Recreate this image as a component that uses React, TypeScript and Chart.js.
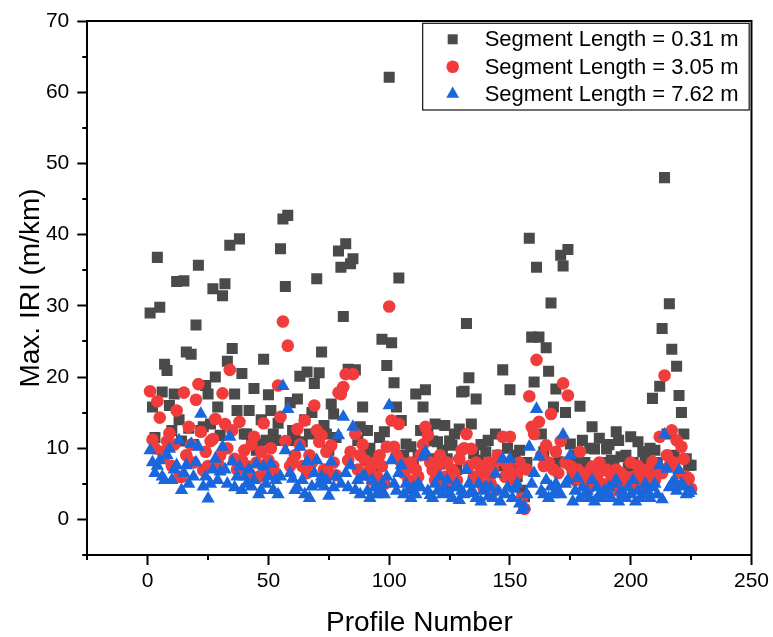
import React, { useEffect, useRef } from 'react';
import { Chart, registerables } from 'chart.js';

Chart.register(...registerables);

// Profile numbers (x categories)
const profiles: number[] = Array.from({ length: 225 }, (_, i) => i + 1);

// Max. IRI (m/km) – Segment Length = 0.31 m
const seg031: number[] = [
  29.0, 15.8, 11.5, 36.8, 29.8, 17.9, 21.8, 20.9, 16.0, 12.5,
  17.6, 33.4, 14.0, 11.0, 33.5, 23.5, 12.8, 23.2, 10.5, 27.3,
  35.7, 12.5, 13.0, 18.8, 17.6, 13.4, 32.4, 20.0, 15.8, 11.8,
  31.4, 33.1, 22.2, 38.5, 24.0, 17.6, 15.3, 39.4, 20.5, 12.0,
  12.0, 15.3, 10.5, 18.4, 9.7, 10.6, 14.0, 22.5, 11.1, 17.5,
  15.3, 12.0, 11.1, 13.5, 38.0, 42.2, 32.7, 42.7, 16.4, 12.5,
  11.1, 16.9, 20.1, 10.9, 14.0, 20.7, 12.0, 15.0, 19.1, 33.8,
  20.6, 23.5, 13.2, 12.0, 9.7, 16.2, 14.8, 11.5, 37.7, 35.4,
  28.5, 38.7, 21.1, 35.9, 36.6, 21.0, 11.1, 13.0, 15.8, 9.7,
  12.5, 10.0, 8.5, 7.4, 8.8, 11.5, 25.3, 12.3, 21.6, 62.1,
  24.8, 19.2, 15.8, 33.9, 13.9, 9.0, 10.6, 8.0, 10.2, 7.5,
  17.6, 9.0, 12.5, 15.8, 18.2, 12.0, 8.5, 11.0, 13.4, 10.9,
  7.8, 9.7, 13.2, 8.5, 11.0, 10.4, 12.0, 7.0, 12.7, 17.9,
  18.0, 27.5, 19.9, 13.4, 9.2, 16.9, 8.3, 10.5, 7.0, 9.5,
  11.1, 6.5, 8.0, 12.0, 9.0, 7.5, 21.0, 7.9, 10.0, 18.2,
  7.4, 9.0, 6.0, 9.7, 4.1, 3.2, 8.0, 39.5, 25.6, 19.3,
  35.4, 25.6, 12.0, 9.5, 24.1, 20.8, 30.4, 15.8, 18.3, 8.1,
  37.1, 35.6, 15.0, 37.9, 10.6, 7.0, 9.0, 8.3, 15.9, 11.1,
  8.0, 7.5, 10.0, 13.0, 9.9, 6.5, 11.4, 8.0, 7.0, 9.9,
  10.5, 8.3, 7.5, 12.3, 11.1, 8.8, 6.5, 9.0, 7.2, 11.6,
  8.0, 6.8, 10.9, 7.5, 9.5, 8.5, 6.5, 10.0, 17.0, 9.7,
  8.0, 18.7, 26.8, 48.0, 12.0, 30.3, 23.9, 9.0, 21.5, 17.4,
  15.0, 12.0, 8.5, 7.6, 7.6,
];

// Max. IRI (m/km) – Segment Length = 3.05 m
const seg305: number[] = [
  18.0, 11.2, 10.0, 16.6, 14.3, 9.5, 8.8, 11.0, 12.1, 7.5,
  10.5, 15.3, 6.0, 6.0, 17.8, 9.0, 13.0, 10.5, 8.0, 16.8,
  19.0, 12.3, 6.9, 9.5, 7.5, 11.0, 11.3, 14.1, 8.0, 9.0,
  17.7, 13.4, 10.0, 21.0, 12.5, 8.5, 7.0, 13.7, 8.3, 9.7,
  7.5, 6.5, 10.5, 11.6, 8.0, 6.0, 9.5, 13.5, 7.0, 8.3,
  10.0, 7.5, 6.5, 18.8, 14.4, 27.8, 11.0, 24.4, 7.5, 8.1,
  9.0, 12.7, 10.5, 7.5, 13.9, 6.5, 9.0, 8.0, 16.0, 12.5,
  10.9, 11.8, 7.0, 9.5, 6.5, 10.4, 8.0, 6.2, 17.8, 17.6,
  18.6, 20.4, 8.3, 9.5, 20.4, 12.0, 7.0, 9.0, 10.5, 8.3,
  6.5, 7.0, 5.5, 8.0, 6.0, 9.0, 7.5, 5.0, 10.2, 29.9,
  13.9, 10.2, 9.0, 13.4, 8.0, 6.5, 7.0, 5.5, 8.0, 4.5,
  7.0, 6.0, 9.0, 10.5, 13.0, 11.8, 8.0, 6.9, 5.5, 7.5,
  9.0, 5.0, 6.0, 8.0, 4.5, 7.0, 6.5, 5.5, 8.5, 9.7,
  10.0, 12.0, 7.5, 9.9, 6.0, 8.0, 5.5, 7.0, 4.5, 6.5,
  8.0, 5.0, 7.0, 4.1, 9.0, 8.3, 11.6, 6.0, 7.5, 11.6,
  6.5, 5.0, 6.4, 8.0, 3.0, 1.5, 7.0, 17.3, 13.0, 12.0,
  22.4, 13.7, 9.0, 7.5, 10.4, 8.0, 14.8, 7.0, 9.5, 6.5,
  11.0, 19.1, 8.0, 17.4, 7.5, 6.6, 5.5, 7.0, 9.5, 6.0,
  5.0, 6.5, 4.5, 7.4, 5.5, 6.0, 8.0, 5.0, 6.9, 7.0,
  4.5, 6.0, 5.5, 7.0, 4.0, 6.5, 5.0, 6.0, 5.5, 8.0,
  6.0, 4.5, 7.5, 5.5, 6.4, 5.0, 7.0, 6.0, 8.1, 5.5,
  7.0, 11.6, 6.5, 20.2, 9.0, 7.5, 12.5, 8.0, 11.1, 6.5,
  10.2, 8.5, 6.0, 5.7, 4.3,
];

// Max. IRI (m/km) – Segment Length = 7.62 m
const seg762: number[] = [
  9.7, 8.0, 6.5, 7.5, 8.3, 6.0, 5.5, 9.0, 9.9, 5.5,
  7.0, 7.6, 11.1, 4.1, 6.5, 7.6, 5.0, 10.6, 6.0, 8.0,
  10.2, 14.8, 4.6, 6.0, 2.9, 5.0, 7.0, 8.5, 5.5, 6.7,
  10.2, 7.0, 5.0, 11.6, 8.1, 4.5, 6.0, 7.4, 4.1, 6.0,
  5.0, 7.0, 4.6, 5.5, 7.8, 3.5, 4.1, 7.4, 5.0, 6.0,
  7.8, 4.1, 5.5, 3.5, 6.0, 18.7, 9.7, 15.5, 6.5, 5.7,
  4.1, 4.5, 10.2, 5.5, 3.5, 8.1, 3.0, 4.6, 6.5, 8.3,
  5.0, 6.0, 4.6, 5.5, 3.3, 8.1, 4.5, 6.0, 11.8, 5.0,
  14.4, 6.5, 4.5, 7.6, 13.0, 4.1, 5.5, 3.5, 6.0, 6.0,
  4.0, 3.0, 5.5, 4.5, 3.5, 4.3, 5.0, 3.5, 6.0, 16.0,
  8.3, 5.0, 4.0, 6.5, 7.6, 3.5, 5.0, 4.1, 3.0, 4.5,
  3.5, 5.0, 4.5, 8.8, 9.5, 4.0, 3.4, 3.0, 5.0, 4.0,
  6.0, 3.5, 4.5, 5.5, 3.7, 3.0, 4.5, 5.0, 2.7, 4.0,
  3.5, 6.9, 5.0, 4.0, 3.7, 3.0, 5.0, 2.5, 4.0, 4.6,
  3.2, 4.5, 3.0, 6.4, 4.0, 2.5, 8.5, 3.5, 4.5, 8.5,
  3.0, 4.3, 5.0, 2.2, 1.3, 1.8, 3.5, 10.2, 5.0, 6.5,
  15.5, 8.8, 4.0, 3.5, 5.5, 3.0, 4.6, 3.5, 5.0, 4.0,
  3.5, 11.9, 5.0, 5.5, 9.0, 2.5, 4.0, 5.8, 3.0, 4.5,
  3.5, 4.0, 3.0, 5.5, 2.5, 4.5, 3.5, 3.0, 4.0, 3.5,
  4.5, 3.0, 5.0, 5.5, 2.5, 4.0, 3.5, 3.0, 4.5, 3.5,
  5.5, 2.5, 4.0, 3.0, 3.5, 5.0, 4.0, 3.0, 4.5, 5.0,
  3.5, 7.6, 2.8, 11.9, 7.1, 4.5, 5.0, 5.5, 4.0, 6.9,
  5.0, 4.6, 3.5, 3.7, 4.0,
];

const seriesLabels = [
  'Segment Length = 0.31 m',
  'Segment Length = 3.05 m',
  'Segment Length = 7.62 m',
];

const xTickValues = [0, 50, 100, 150, 200, 250];
const yTickValues = [0, 10, 20, 30, 40, 50, 60, 70];
const xMinorTicks = [-25, 25, 75, 125, 175, 225];
const yMinorTicks = [-5, 5, 15, 25, 35, 45, 55, 65];

const FONT = '"Liberation Sans", Arial, Helvetica, sans-serif';
const GRAY = '#4a4a4a';
const RED = '#f23c3c';
const BLUE = '#1a66db';

function drawMarker(ctx: CanvasRenderingContext2D, style: string, x: number, y: number, color: string) {
  ctx.fillStyle = color;
  ctx.beginPath();
  if (style === 'rect') {
    const s = 10;
    ctx.rect(x - s / 2, y - s / 2, s, s);
  } else if (style === 'circle') {
    ctx.arc(x, y, 6.3, 0, Math.PI * 2);
  } else {
    const r = 7.4;
    ctx.moveTo(x, y - r);
    ctx.lineTo(x + r * 0.866, y + r * 0.5);
    ctx.lineTo(x - r * 0.866, y + r * 0.5);
    ctx.closePath();
  }
  ctx.fill();
}

const framePlugin = {
  id: 'originFrame',
  afterDraw(chart: any) {
    const { ctx, chartArea } = chart;
    const xs = chart.scales.x;
    const ys = chart.scales.y;
    ctx.save();
    ctx.strokeStyle = '#000';
    ctx.lineWidth = 2;
    // top and right frame
    ctx.beginPath();
    ctx.moveTo(chartArea.left, chartArea.top);
    ctx.lineTo(chartArea.right, chartArea.top);
    ctx.lineTo(chartArea.right, chartArea.bottom + 1);
    ctx.stroke();
    // minor ticks
    ctx.beginPath();
    xMinorTicks.forEach((v) => {
      const px = Math.round(xs.getPixelForValue(v));
      ctx.moveTo(px, chartArea.bottom);
      ctx.lineTo(px, chartArea.bottom + 5);
    });
    yMinorTicks.forEach((v) => {
      const py = Math.round(ys.getPixelForValue(v));
      ctx.moveTo(chartArea.left, py);
      ctx.lineTo(chartArea.left - 5, py);
    });
    ctx.stroke();

    // legend box
    const right = chartArea.right - 2.3;
    const top = chartArea.top + 2.3;
    const left = right - 326.5;
    const h = 86.7;
    ctx.fillStyle = '#fff';
    ctx.fillRect(left, top, right - left, h);
    ctx.lineWidth = 1.2;
    ctx.strokeStyle = '#111';
    ctx.strokeRect(left, top, right - left, h);
    const rows = [16, 43.4, 70.7];
    const styles = ['rect', 'circle', 'triangle'];
    const colors = [GRAY, RED, BLUE];
    ctx.font = `22px ${FONT}`;
    ctx.textBaseline = 'middle';
    ctx.textAlign = 'left';
    rows.forEach((dy, i) => {
      drawMarker(ctx, styles[i], left + 30, top + dy, colors[i]);
      ctx.fillStyle = '#000';
      ctx.fillText(seriesLabels[i], left + 62, top + dy + 1);
    });
    ctx.restore();
  },
};

export default function App() {
  const ref = useRef<HTMLCanvasElement>(null);
  useEffect(() => {
    document.body.style.margin = '0';
    const canvas = ref.current;
    if (!canvas) return;
    const toPts = (vals: number[]) => vals.map((v, i) => ({ x: profiles[i], y: v }));
    const chart = new Chart(canvas, {
      type: 'scatter',
      data: {
        datasets: [
          {
            label: seriesLabels[0],
            data: toPts(seg031),
            pointStyle: 'rect',
            pointRadius: 7.8,
            pointHoverRadius: 7.8,
            backgroundColor: GRAY,
            borderColor: GRAY,
            borderWidth: 0,
            order: 3,
          },
          {
            label: seriesLabels[1],
            data: toPts(seg305),
            pointStyle: 'circle',
            pointRadius: 6.3,
            pointHoverRadius: 6.3,
            backgroundColor: RED,
            borderColor: RED,
            borderWidth: 0,
            order: 2,
          },
          {
            label: seriesLabels[2],
            data: toPts(seg762),
            pointStyle: 'triangle',
            pointRadius: 7.7,
            pointHoverRadius: 7.7,
            backgroundColor: BLUE,
            borderColor: BLUE,
            borderWidth: 0,
            order: 1,
          },
        ],
      },
      options: {
        responsive: false,
        animation: false,
        events: [],
        layout: { padding: { top: 21, right: 20.7, left: 0, bottom: 0 } },
        plugins: { legend: { display: false }, tooltip: { enabled: false } },
        scales: {
          x: {
            type: 'linear',
            min: -25,
            max: 250,
            afterBuildTicks: (s: any) => {
              s.ticks = xTickValues.map((v) => ({ value: v }));
            },
            afterFit: (s: any) => {
              s.height = 82;
            },
            grid: {
              display: true,
              drawOnChartArea: false,
              drawTicks: true,
              tickLength: 10,
              tickWidth: 2,
              tickColor: '#000',
            },
            border: { display: true, color: '#000', width: 2 },
            ticks: {
              color: '#000',
              font: { family: FONT, size: 21 },
              padding: 4,
              maxRotation: 0,
              autoSkip: false,
            },
            title: {
              display: true,
              text: 'Profile Number',
              color: '#000',
              font: { family: FONT, size: 28, lineHeight: 1 },
              padding: { top: 0, bottom: 0 },
            },
          },
          y: {
            type: 'linear',
            min: -5,
            max: 70,
            afterBuildTicks: (s: any) => {
              s.ticks = yTickValues.map((v) => ({ value: v }));
            },
            afterFit: (s: any) => {
              s.width = 87.3;
            },
            grid: {
              display: true,
              drawOnChartArea: false,
              drawTicks: true,
              tickLength: 10,
              tickWidth: 2,
              tickColor: '#000',
            },
            border: { display: true, color: '#000', width: 2 },
            ticks: {
              color: '#000',
              font: { family: FONT, size: 21 },
              padding: 8,
            },
            title: {
              display: true,
              text: 'Max. IRI (m/km)',
              color: '#000',
              font: { family: FONT, size: 28, lineHeight: 1.2 },
              padding: { top: 14, bottom: 0 },
            },
          },
        },
      },
      plugins: [framePlugin],
    });
    return () => chart.destroy();
  }, []);
  return (
    <div style={{ position: 'absolute', left: 0, top: 0, width: 773, height: 637, background: '#fff' }}>
      <canvas ref={ref} width={773} height={637} style={{ display: 'block' }} />
    </div>
  );
}
